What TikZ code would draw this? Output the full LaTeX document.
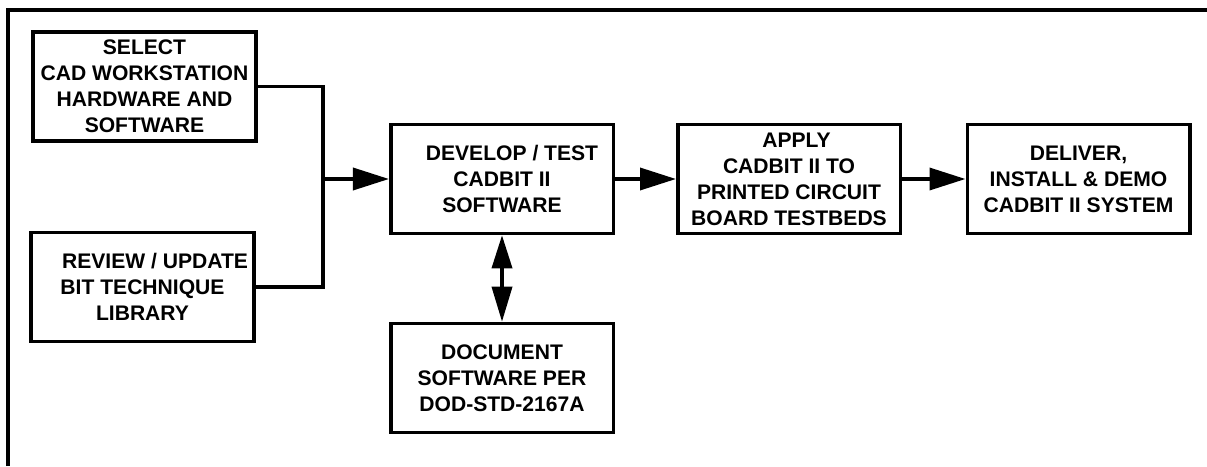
\documentclass[tikz,border=0pt]{standalone}
\usepackage{fontspec}
\setmainfont{Liberation Sans}
\usetikzlibrary{arrows.meta}

\tikzset{
  task/.style={draw, line width=2pt, minimum width=4.45cm, minimum height=2.18cm,
    align=center, inner sep=1pt, font=\fontsize{12}{14.8}\selectfont\bfseries},
  wire/.style={line width=2pt},
  flow/.style={line width=2pt, -{Triangle[length=0.72cm,width=0.44cm]}},
  both/.style={line width=2pt, {Triangle[length=0.66cm,width=0.4cm]}-{Triangle[length=0.7cm,width=0.4cm]}}
}

\begin{document}
\begin{tikzpicture}
        \useasboundingbox (0,0) rectangle (24.14,9.32);
        % open frame, top and left side only
        \draw[wire] (0.16,0) -- (0.16,9.12) -- (24.14,9.12);

        % tasks
        \node[task] (sel) at (2.89,7.59) {SELECT\\CAD WORKSTATION\\HARDWARE AND\\SOFTWARE};
        \node[task] (rev) at (2.85,3.58) {\hspace{0.5cm}REVIEW / UPDATE\\BIT TECHNIQUE\\LIBRARY};
        \node[task] (dev) at (10.04,5.74) {\hspace{0.4cm}DEVELOP / TEST\\CADBIT II\\SOFTWARE};
        \node[task] (doc) at (10.04,1.76) {DOCUMENT\\SOFTWARE PER\\DOD-STD-2167A};
        \node[task] (app) at (15.78,5.74) {\hspace{0.3cm}APPLY\\CADBIT II TO\\PRINTED CIRCUIT\\BOARD TESTBEDS};
        \node[task] (dlv) at (21.57,5.74) {DELIVER,\\INSTALL \& DEMO\\CADBIT II SYSTEM};

        \coordinate (jn) at (6.46,5.74);

        % connectors
        \draw[wire] (sel.east) -| (jn) |- (rev.east);
        \draw[flow] (jn) -- (dev.west);
        \draw[both] (dev.south) -- (doc.north);
        \draw[flow] (dev.east) -- (app.west);
        \draw[flow] (app.east) -- (dlv.west);
      \end{tikzpicture}
\end{document}
